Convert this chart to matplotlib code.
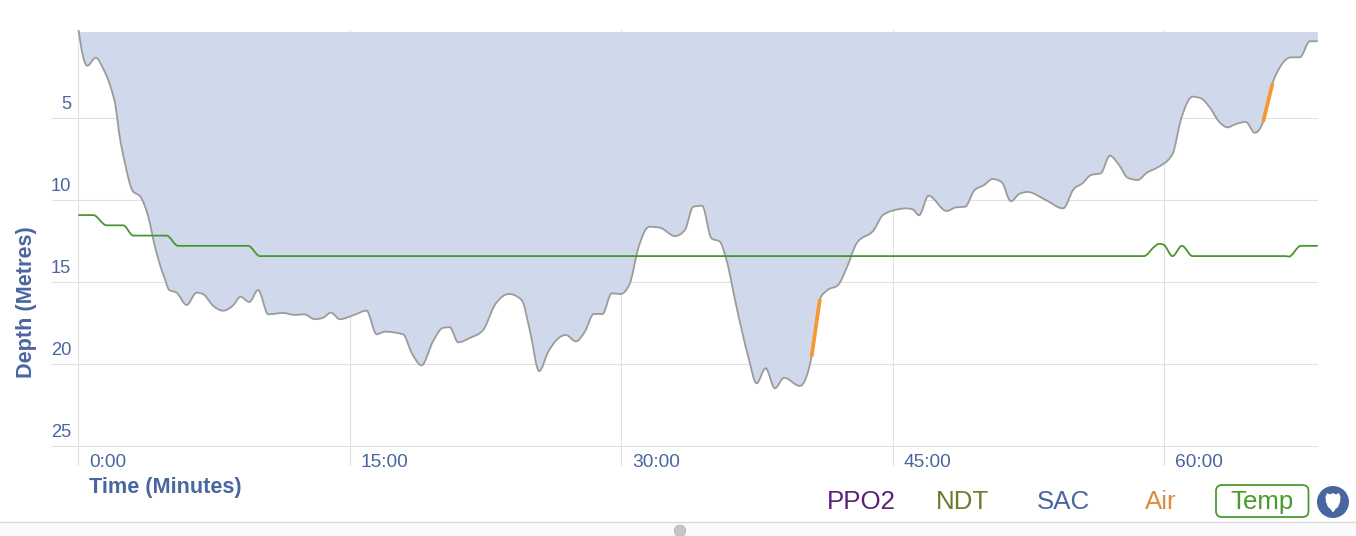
import numpy as np
import matplotlib
matplotlib.use("Agg")
import matplotlib.pyplot as plt
from matplotlib.path import Path
from matplotlib.patches import PathPatch, Rectangle, Circle, FancyBboxPatch
from matplotlib.transforms import ScaledTranslation

plt.rcParams['font.family'] = ['Liberation Sans', 'DejaVu Sans']

depth_time = [0.01,0.18,0.49,0.97,1.35,1.83,2.06,2.25,2.57,2.99,3.44,3.86,4.23,4.60,4.78,5.02,5.43,5.98,6.53,6.90,
 7.45,8.0,8.55,8.96,9.44,9.93,10.49,11.31,11.96,12.46,13.07,13.52,13.95,14.45,15.18,15.92,16.48,16.93,17.94,18.41,
 18.96,19.60,20.15,20.52,20.98,21.63,22.36,23.01,23.80,24.49,24.94,25.46,25.96,26.93,27.49,27.98,28.48,28.96,29.46,29.96,
 30.47,30.93,31.54,32.13,32.96,33.51,33.97,34.46,34.98,35.44,35.81,36.36,37.01,37.47,37.97,38.48,38.99,39.86,40.23,40.51,
 40.97,41.34,41.98,42.44,43.0,43.95,44.46,45.39,45.72,46.09,46.45,46.97,47.97,48.48,48.99,49.49,50.04,50.51,51.02,51.52,
 51.98,52.44,53.45,54.41,54.98,55.48,55.94,56.49,56.99,57.50,57.97,58.52,59.07,59.53,60.45,60.91,61.56,62.02,62.48,63.03,
 63.49,63.95,64.50,65.0,65.46,65.98,66.44,66.99,67.49,68.04,68.48]
depth_m = [-0.37,0.85,1.81,1.32,1.95,3.29,4.31,5.91,7.74,9.43,9.82,11.02,12.85,14.27,14.82,15.49,15.65,16.40,15.65,15.75,
 16.46,16.75,16.42,15.90,16.22,15.49,16.97,16.89,17.01,16.97,17.27,17.18,16.87,17.27,17.03,16.75,18.19,18.03,18.19,19.31,
 20.08,18.60,17.79,17.76,18.68,18.41,17.93,16.40,15.73,16.10,17.93,20.43,19.25,18.23,18.62,18.03,16.95,16.95,15.69,15.73,
 15.08,12.95,11.63,11.69,12.20,11.83,10.41,10.35,12.34,12.54,13.66,16.51,19.55,21.18,20.26,21.48,20.84,21.34,20.77,19.55,
 16.05,15.53,15.18,14.16,12.64,11.83,10.91,10.55,10.51,10.57,10.93,9.74,10.67,10.45,10.41,9.43,9.09,8.72,8.92,10.08,
 9.63,9.51,10.0,10.51,9.35,8.98,8.48,8.37,7.30,7.87,8.64,8.78,8.31,8.07,7.20,5.12,3.70,3.80,4.31,5.23,
 5.57,5.37,5.24,5.90,5.23,2.88,1.81,1.30,1.30,0.32,0.32]

temp_time = [0,0.82,1.56,2.48,3.03,4.87,5.51,9.38,10.03,58.61,58.87,59.44,59.71,59.97,60.45,60.97,61.56,66.71,66.88,67.54,68.04,68.48]
temp_c = [30,30,29,29,28,28,27,27,26,26,26,26.9,27.2,27.1,26,27,26,26,25.95,27,27,27]

air_segments = [([40.51,40.97],[19.55,16.05]), ([65.46,65.98],[5.23,2.88])]

x_ticks = [0,15,30,45,60]
x_labels = ['0:00','15:00','30:00','45:00','60:00']
y_ticks = [5,10,15,20,25]
legend_names = ['PPO2','NDT','SAC','Air','Temp']

BLUE = '#4a66a0'

def monotone_path(x, y):
    x = np.asarray(x, float); y = np.asarray(y, float)
    h = np.diff(x); s = np.diff(y) / h
    m = np.zeros_like(x)
    for i in range(1, len(x) - 1):
        if s[i-1] * s[i] > 0:
            p = (s[i-1] * h[i] + s[i] * h[i-1]) / (h[i-1] + h[i])
            m[i] = np.sign(s[i]) * min(abs(s[i-1]), abs(s[i]), 0.5 * abs(p)) * 2
    m[0] = s[0]; m[-1] = s[-1]
    verts = [(x[0], y[0])]; codes = [Path.MOVETO]
    for i in range(len(h)):
        verts += [(x[i] + h[i]/3, y[i] + m[i]*h[i]/3),
                  (x[i+1] - h[i]/3, y[i+1] - m[i+1]*h[i]/3),
                  (x[i+1], y[i+1])]
        codes += [Path.CURVE4] * 3
    return verts, codes

W, H = 1356, 536
fig = plt.figure(figsize=(W/100, H/100), dpi=100, facecolor='white')
L, R, T, B = 52, 1318, 30, 466
ax = fig.add_axes([L/W, 1 - B/H, (R-L)/W, (B-T)/H])
ax.set_xlim(-1.459, 68.49)
ax.set_ylim(26.22, -0.366)
for s in ax.spines.values():
    s.set_visible(False)
ax.set_axisbelow(True)
ax.grid(True, color='#e0e0e0', lw=0.75)
ax.tick_params(length=0, pad=0, labelcolor=BLUE)
ax.tick_params(axis='x', labelsize=13.8)
ax.tick_params(axis='y', labelsize=13.2)
ax.set_xticks(x_ticks, x_labels)
ax.set_yticks(y_ticks, [str(v) for v in y_ticks])
px = 1/100
for lab in ax.get_xticklabels():
    lab.set_ha('left'); lab.set_va('baseline')
    lab.set_transform(lab.get_transform() + ScaledTranslation(10.5*px, -1*px, fig.dpi_scale_trans))
for lab in ax.get_yticklabels():
    lab.set_ha('right'); lab.set_va('baseline')
    lab.set_transform(lab.get_transform() + ScaledTranslation(19*px, 9*px, fig.dpi_scale_trans))

# depth area
verts, codes = monotone_path(depth_time, depth_m)
fv = verts + [(depth_time[-1], -0.37), (depth_time[0], -0.37), (depth_time[0], depth_m[0])]
fc = codes + [Path.LINETO, Path.LINETO, Path.CLOSEPOLY]
area = PathPatch(Path(fv, fc), facecolor='#d0d9eb', edgecolor='none', zorder=2)
ax.add_patch(area)
area.set_clip_path(Rectangle((-2, -0.244), 75, 30, transform=ax.transData))
ax.add_patch(PathPatch(Path(verts, codes), facecolor='none', edgecolor='#9b9b9b', lw=1.3, zorder=3))

# air segments
for tx, dy in air_segments:
    ax.plot(tx, dy, color='#f59a31', lw=2.7, solid_capstyle='butt', zorder=4)

# temperature on a hidden axis
ax2 = ax.twinx()
ax2.set_ylim(5.53, 48.05)
ax2.axis('off')
tv, tc = monotone_path(temp_time, temp_c)
ax2.add_patch(PathPatch(Path(tv, tc), facecolor='none', edgecolor='#4a962e', lw=1.3, zorder=5))

# overlay in pixel coordinates for labels and chrome
ov = fig.add_axes([0, 0, 1, 1], facecolor='none')
ov.set_xlim(0, W); ov.set_ylim(H, 0); ov.axis('off')
ov.text(89, 493, 'Time (Minutes)', color=BLUE, fontsize=15.6, fontweight='bold', ha='left', va='baseline')
ov.text(32, 302, 'Depth (Metres)', color=BLUE, fontsize=15.6, fontweight='bold', rotation=90,
        ha='center', va='baseline', rotation_mode='anchor')

legend_x = [827, 936, 1037, 1145, 1230]
legend_col = ['#5b1f7a', '#6f7a2a', BLUE, '#e08a3c', '#4a9a2f']
for name, x, c in zip(legend_names, legend_x, legend_col):
    ov.text(x, 509, name, color=c, fontsize=18.6, ha='left', va='baseline')
ov.add_patch(FancyBboxPatch((1216, 485), 92.5, 32, boxstyle='round,pad=0,rounding_size=6',
                            fc='none', ec='#4a9a2f', lw=1.3, clip_on=False))
# shield button
ov.add_patch(Circle((1333, 502), 16, fc=BLUE, ec='none'))
sx = [1327,1330,1333,1336,1339,1340.5,1340,1338,1335,1334,1333,1332,1331,1328,1326,1325.5]
sy = [493,494.5,493,494.5,493,497,502,507,509.5,511.5,512,511.5,509.5,507,502,497]
ov.fill(sx, sy, color='white', lw=0)

# bottom bar
ov.add_patch(Rectangle((0, 522), W, 14, fc='#fafafa', ec='none'))
ov.plot([0, W], [521.5, 521.5], color='#dcdcdc', lw=1)
ov.add_patch(Circle((680, 531), 5.7, fc='#c6c6c6', ec='#b0b0b0', lw=0.6))

fig.savefig('out.png', dpi=100, facecolor='white')
